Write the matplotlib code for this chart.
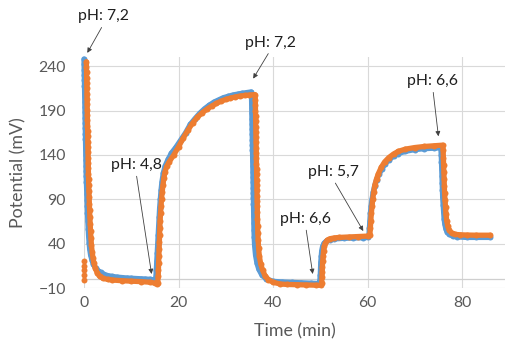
import matplotlib
matplotlib.use("Agg")
import matplotlib.pyplot as plt

# ---------------- data ----------------
blue_time = [
    0.00, 0.02, 0.04, 0.06, 0.08, 0.10, 0.12, 0.14, 0.16, 0.18, 0.20, 0.22, 0.24, 0.26, 0.28,
    0.30, 0.32, 0.34, 0.36, 0.38, 0.40, 0.43, 0.46, 0.50, 0.54, 0.58, 0.63, 0.68, 0.74, 0.80,
    0.88, 0.97, 1.08, 1.2, 1.4, 1.7, 2.0, 2.5, 3.0, 3.5, 4.0, 5, 6, 7, 8, 9, 10, 11, 12, 13, 14, 15,
    15.2, 15.3, 15.4, 15.5, 15.6, 15.7, 15.8, 15.9, 16.0, 16.15, 16.3, 16.5, 16.8, 17.2, 17.8,
    18.5, 19.5, 20.5, 21.5, 22.5, 23.5, 24.5, 25.5, 26.5, 27.5, 28.5, 29.5, 30.5, 31.5, 32.5,
    33.5, 34.5, 35.4,
    35.45, 35.47, 35.49, 35.51, 35.53, 35.55, 35.57, 35.59, 35.61, 35.63, 35.65, 35.67, 35.69,
    35.71, 35.73, 35.75, 35.77, 35.79, 35.81, 35.83, 35.85, 35.87, 35.90, 35.93, 35.97, 36.02,
    36.1, 36.3, 36.6, 37.0, 37.6, 38.5, 40, 42, 44, 46, 48, 49.7,
    49.9, 50.0, 50.05, 50.1, 50.2, 50.3, 50.5, 50.8, 51.3, 52, 53, 55, 57, 59, 60.2,
    60.3, 60.4, 60.5, 60.6, 60.75, 60.95, 61.2, 61.5, 61.9, 62.4, 63, 63.7, 64.5, 65.5, 66.5,
    68, 70, 72, 74, 75.5,
    75.6, 75.65, 75.7, 75.75, 75.8, 75.85, 75.9, 76.0, 76.1, 76.2, 76.35, 76.55, 76.85, 77.3,
    78, 79, 81, 83, 86,
]
blue_mv = [
    248, 242, 236, 230, 224, 218, 212, 206, 200, 194, 188, 182, 176, 170, 164,
    158, 152, 146, 140, 134, 128, 122, 116, 110, 103, 96, 89, 82, 74, 66,
    57, 49, 41, 34, 27, 21, 16.5, 12, 9.5, 7.5, 6, 4, 3, 2.3, 1.8, 1.3, 1, 0.7, 0.4, 0.1, -0.2, -1,
    2, 10, 20, 30, 40, 50, 60, 70, 80, 90, 100, 110, 120, 128, 135,
    142, 149, 157, 165, 174.5, 181, 187, 192, 196, 199.5, 202, 204.5, 206, 207.5, 208.5,
    209.5, 210.3, 211,
    205, 199, 193, 187, 181, 175, 169, 163, 157, 151, 145, 139, 133,
    127, 121, 115, 109, 103, 97, 91, 85, 79, 71, 63, 55, 47,
    38, 27, 18, 11, 5, 0.5, -2.5, -3.2, -3.7, -4.2, -4.6, -5,
    -2, 5, 12, 19, 26, 32, 37, 40.5, 43, 44.5, 45.3, 46, 46.3, 46.6, 47,
    50, 58, 66, 74, 82, 90, 98, 105, 112, 118, 124, 130, 134.5, 138.5, 141.5,
    144, 146, 147, 147.5, 148,
    140, 132, 124, 116, 108, 100, 92, 84, 76, 68, 62, 57, 53, 50.5,
    48.5, 47.5, 47, 47, 47,
]

orange_start_time = [0.0, 0.0, 0.0, 0.0, 0.0]
orange_start_mv = [-1, 5, 10, 15, 20]

orange_time = [
    0.50, 0.52, 0.54, 0.56, 0.58, 0.60, 0.62, 0.64, 0.66, 0.68, 0.70, 0.72, 0.74, 0.76, 0.78,
    0.80, 0.82, 0.84, 0.86, 0.88, 0.90, 0.93, 0.96, 1.00, 1.04, 1.08, 1.13, 1.18, 1.24, 1.30,
    1.38, 1.47, 1.58, 1.72, 1.9, 2.1, 2.4, 2.8, 3.3, 4, 5, 6, 8, 10, 12, 14, 15, 15.5,
    15.6, 15.7, 15.75, 15.8, 15.85, 15.9, 15.95, 16.0, 16.05, 16.1, 16.2, 16.3, 16.4, 16.55,
    16.7, 16.9, 17.15, 17.5, 18, 19, 20, 21, 22, 23, 24, 25, 26, 27, 28, 29, 30, 31, 32, 33,
    34, 35, 36.2,
    36.25, 36.27, 36.29, 36.31, 36.33, 36.35, 36.37, 36.39, 36.41, 36.43, 36.45, 36.47, 36.49,
    36.51, 36.53, 36.55, 36.57, 36.59, 36.61, 36.63, 36.65, 36.67, 36.70, 36.74, 36.79, 36.85,
    36.95, 37.1, 37.4, 37.8, 38.3, 39, 40, 41.5, 43, 45, 47, 49, 50.2,
    50.3, 50.35, 50.4, 50.45, 50.5, 50.6, 50.7, 50.85, 51.1, 51.5, 52, 53, 54, 56, 58, 60,
    60.5, 60.6, 60.7, 60.8, 60.95, 61.1, 61.3, 61.55, 61.9, 62.3, 62.9, 63.6, 64.5, 65.5,
    66.5, 68, 70, 72, 74, 75.9,
    76.0, 76.05, 76.1, 76.15, 76.2, 76.25, 76.3, 76.4, 76.5, 76.6, 76.75, 76.95, 77.3, 77.8,
    78.5, 79.5, 81, 83, 86,
]
orange_mv = [
    245, 239, 233, 227, 221, 215, 209, 203, 197, 191, 185, 179, 173, 167, 161,
    155, 149, 143, 137, 131, 125, 119, 113, 106, 99, 92, 85, 78, 70, 62,
    54, 46, 38, 31, 24, 18, 12, 7, 3, 1, -0.3, -1, -1.8, -2.3, -2.8, -3.5, -4.5, -5,
    -4, 3, 10, 18, 26, 34, 42, 50, 58, 66, 74, 82, 90, 98,
    106, 114, 121, 127, 132, 140, 149, 159, 168, 176, 182.5, 187.5, 191.5, 195, 198, 200.5,
    202.5, 204, 205.3, 206.3, 207, 207.5, 208,
    202, 196, 190, 184, 178, 172, 166, 160, 154, 148, 142, 136, 130,
    124, 118, 112, 106, 100, 94, 88, 82, 76, 68, 60, 52, 44,
    35, 26, 17, 10, 4, -0.5, -3.5, -5.5, -6, -6.3, -6.6, -7, -7,
    -4, 2, 8, 14, 20, 26, 32, 37, 41, 44, 45.5, 46.5, 47, 47.5, 48, 48.5,
    50, 58, 66, 74, 82, 90, 98, 106, 113, 119, 126, 132, 137, 141,
    144, 146.5, 148.3, 149.5, 150.3, 151,
    145, 137, 129, 121, 113, 105, 97, 89, 81, 73, 66, 60, 55, 52,
    50.5, 50, 49.7, 49.5, 49.5,
]

x_ticks = [0, 20, 40, 60, 80]
y_ticks = [-10, 40, 90, 140, 190, 240]

# annotations: (label, text position (time, mV), arrow tip (time, mV))
ann_labels = ["pH: 7,2", "pH: 4,8", "pH: 7,2", "pH: 6,6", "pH: 5,7", "pH: 6,6"]
ann_text_xy = [(4.2, 296), (11.0, 128.5), (39.5, 266.5), (73.8, 223), (52.7, 120.6), (46.9, 67.7)]
ann_tip_xy = [(0.7, 255), (14.3, 5.8), (35.8, 226), (75.0, 161), (59.1, 54.2), (48.4, 5.8)]

# ---------------- figure ----------------
plt.rcParams['font.family'] = ['Lato', 'DejaVu Sans']

fig = plt.figure(figsize=(5.06, 3.43), dpi=100)
ax = fig.add_axes([84 / 506, 55 / 343, 422 / 506, 230.7 / 343])

BLUE = '#5B9BD5'
ORANGE = '#ED7D31'
GRID = '#D9D9D9'

ax.set_xlim(0, 89.3)
ax.set_ylim(-10, 250)

ax.set_xticks(x_ticks)
ax.set_yticks(y_ticks)
ax.grid(True, color=GRID, lw=0.8, zorder=0)
ax.set_axisbelow(True)
ax.axhline(0, color='#CFCFCF', lw=0.9, zorder=1)
for s in ax.spines.values():
    s.set_visible(False)

ax.tick_params(axis='both', length=0, labelsize=11.3, colors='#595959')
ax.tick_params(axis='y', pad=13)
ax.tick_params(axis='x', pad=6)

lw = 3.8
ms = 4.3
ax.plot(blue_time, blue_mv, '-', color=BLUE, lw=lw, marker='o', ms=ms, mec='none',
        solid_capstyle='round', clip_on=False, zorder=3)
ax.plot(orange_start_time, orange_start_mv, 'o', color=ORANGE, ms=ms, mec='none',
        clip_on=False, zorder=4)
ax.plot(orange_time, orange_mv, '-', color=ORANGE, lw=lw, marker='o', ms=ms, mec='none',
        solid_capstyle='round', clip_on=False, zorder=4)

for lab, txy, tip in zip(ann_labels, ann_text_xy, ann_tip_xy):
    ax.annotate(lab, xy=tip, xytext=txy, textcoords='data', ha='center', va='center',
                fontsize=11.3, color='#1F1F1F', annotation_clip=False, zorder=6,
                arrowprops=dict(arrowstyle='-|>', color='#404040', lw=0.6,
                                mutation_scale=7, shrinkA=1, shrinkB=0,
                                relpos=(0.5, 0.0)))

ax.set_xlabel('Time (min)', fontsize=12.8, color='#595959', va='center')
ax.xaxis.set_label_coords(0.5, (288 - 331) / 230.7)
ax.set_ylabel('Potential (mV)', fontsize=12.8, color='#595959', va='center')
ax.yaxis.set_label_coords((18 - 84) / 422, 0.5)

fig.savefig('out.png', dpi=100)
